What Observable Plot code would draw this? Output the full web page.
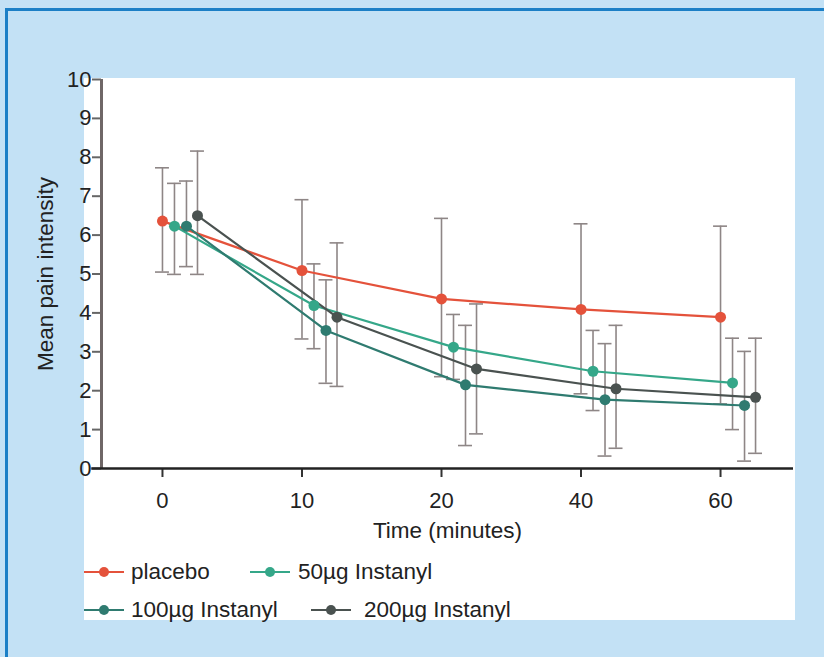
<!DOCTYPE html>
<html>
<head>
<meta charset="utf-8">
<script src="https://cdn.jsdelivr.net/npm/d3@7"></script>
<script src="https://cdn.jsdelivr.net/npm/@observablehq/plot@0.6"></script>
<style>
  html, body { margin: 0; padding: 0; background: #c3e1f5; }
  #frame { position: relative; width: 824px; height: 657px; overflow: hidden; background: #c3e1f5;
           font-family: "Liberation Sans", Arial, Helvetica, sans-serif; color: #222; }
  #btop { position: absolute; left: 5px; top: 8px; width: 819px; height: 3px; background: #1b7fc6; }
  #bleft { position: absolute; left: 5px; top: 8px; width: 3px; height: 649px; background: #1b7fc6; }
  #panel { position: absolute; left: 84px; top: 78px; width: 711px; height: 542px; background: #fff; }
  #chart { position: absolute; left: 0; top: 0; }
  #chart svg { background: transparent !important; overflow: visible; }
  .leg { position: absolute; display: flex; align-items: center; font-size: 22.5px; white-space: nowrap; }
</style>
</head>
<body>
<div id="frame">
  <div id="btop"></div>
  <div id="bleft"></div>
  <div id="panel"></div>
  <div id="chart"></div>
  <div id="legend"></div>
</div>
<script>
// ---- data ----
const times = ["0", "10", "20", "40", "60"];
const seriesNames = ["placebo", "50µg Instanyl", "100µg Instanyl", "200µg Instanyl"];
const seriesColors = ["#e4523b", "#35a789", "#2f7b70", "#4a5250"];

const placeboMean = [6.36, 5.09, 4.36, 4.09, 3.89];
const placeboHi   = [7.73, 6.91, 6.43, 6.29, 6.23];
const placeboLo   = [5.05, 3.33, 2.36, 1.92, 1.66];

const mean50 = [6.23, 4.19, 3.12, 2.50, 2.20];
const hi50   = [7.33, 5.26, 3.96, 3.55, 3.35];
const lo50   = [4.99, 3.08, 2.29, 1.49, 1.00];

const mean100 = [6.23, 3.55, 2.15, 1.77, 1.62];
const hi100   = [7.39, 4.85, 3.68, 3.21, 3.01];
const lo100   = [5.19, 2.19, 0.59, 0.32, 0.19];

const mean200 = [6.50, 3.89, 2.56, 2.05, 1.83];
const hi200   = [8.16, 5.80, 4.23, 3.68, 3.35];
const lo200   = [4.99, 2.11, 0.89, 0.52, 0.39];

const yTicks = [0, 1, 2, 3, 4, 5, 6, 7, 8, 9, 10];

// ---- build table ----
const means = [placeboMean, mean50, mean100, mean200];
const his = [placeboHi, hi50, hi100, hi200];
const los = [placeboLo, lo50, lo100, lo200];
const dodge = [0, 0.086, 0.172, 0.251]; // horizontal offset of each series within a time group
const cap = 0.05;

const rows = [];
seriesNames.forEach((s, k) => {
  times.forEach((t, i) => {
    rows.push({series: s, time: t, x: i + dodge[k], mean: means[k][i], hi: his[k][i], lo: los[k][i]});
  });
});

const xDomain = [-0.437, 4.523];
const font = "Liberation Sans, Arial, Helvetica, sans-serif";

const chart = Plot.plot({
  width: 824,
  height: 560,
  marginLeft: 101,
  marginRight: 31,
  marginTop: 79,
  marginBottom: 92,
  style: {fontFamily: font, fontSize: "22px", color: "#222", background: "transparent"},
  x: {domain: xDomain, axis: null},
  y: {domain: [0, 10], axis: null},
  color: {domain: seriesNames, range: seriesColors},
  marks: [
    // error bars
    Plot.ruleX(rows, {x: "x", y1: "lo", y2: "hi", stroke: "#8e8686", strokeWidth: 1.6}),
    Plot.ruleY(rows, {y: "hi", x1: d => d.x - cap, x2: d => d.x + cap, stroke: "#8e8686", strokeWidth: 1.6}),
    Plot.ruleY(rows, {y: "lo", x1: d => d.x - cap, x2: d => d.x + cap, stroke: "#8e8686", strokeWidth: 1.6}),
    // lines and points
    Plot.line(rows, {x: "x", y: "mean", z: "series", stroke: "series", strokeWidth: 2.2}),
    Plot.dot(rows, {x: "x", y: "mean", fill: "series", r: 5.5}),
    // axes
    Plot.axisY({ticks: yTicks, tickSize: 9, tickPadding: 1, stroke: "#666", strokeWidth: 2, fontSize: 22, label: null}),
    Plot.axisX({ticks: d3.range(times.length), tickFormat: i => times[i], tickSize: 9, tickPadding: 15,
                stroke: "#333", strokeWidth: 2, fontSize: 22, label: null}),
    Plot.ruleX([xDomain[0]], {y1: 0, y2: 10, stroke: "#6f6767", strokeWidth: 3}),
    Plot.ruleY([0], {x1: xDomain[0] - 0.07, x2: xDomain[1], stroke: "#222", strokeWidth: 2.5}),
    // axis titles
    Plot.text(["Time (minutes)"], {frameAnchor: "bottom", lineAnchor: "middle", dy: 62, fontSize: 22.5, fill: "#222"}),
    Plot.text(["Mean pain intensity"], {frameAnchor: "left", textAnchor: "middle", lineAnchor: "middle", dx: -56, rotate: -90, fontSize: 22.5, fill: "#222"})
  ]
});
document.getElementById("chart").appendChild(chart);

// ---- legend ----
const legendPos = [
  {left: 84, top: 572, gap: 7}, {left: 250, top: 572, gap: 8},
  {left: 84, top: 610, gap: 7}, {left: 311, top: 610, gap: 13}
];
const legend = document.getElementById("legend");
seriesNames.forEach((s, k) => {
  const div = document.createElement("div");
  div.className = "leg";
  div.style.left = legendPos[k].left + "px";
  div.style.top = (legendPos[k].top - 14) + "px";
  div.style.height = "28px";
  div.innerHTML = `<svg width="40" height="14" style="margin-right:${legendPos[k].gap}px"><line x1="0" x2="40" y1="7" y2="7" stroke="${seriesColors[k]}" stroke-width="2"/><circle cx="20" cy="7" r="5" fill="${seriesColors[k]}"/></svg><span>${s}</span>`;
  legend.appendChild(div);
});
</script>
</body>
</html>
